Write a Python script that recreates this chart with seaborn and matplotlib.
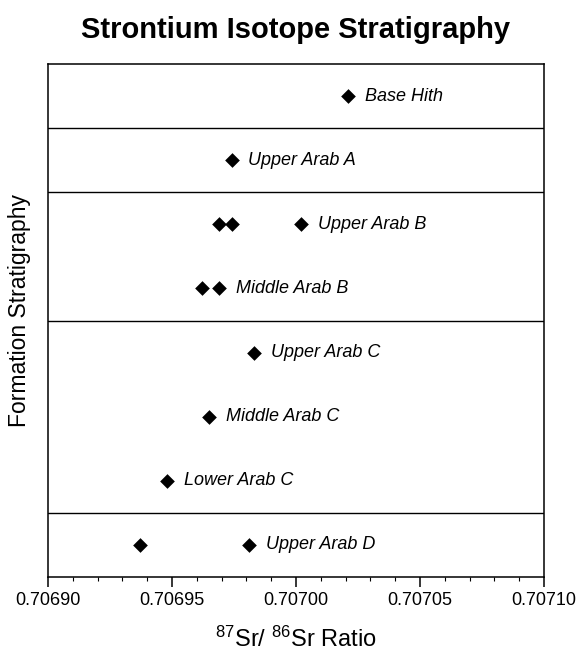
import matplotlib
matplotlib.use("Agg")
import matplotlib.pyplot as plt
import seaborn as sns
import pandas as pd
import numpy as np
from matplotlib.ticker import MultipleLocator, FormatStrFormatter

# ---- data ----
formations = ["Base Hith", "Upper Arab A", "Upper Arab B", "Middle Arab B",
              "Upper Arab C", "Middle Arab C", "Lower Arab C", "Upper Arab D"]
formation_unit = ["Hith", "Arab A", "Arab B", "Arab B",
                  "Arab C", "Arab C", "Arab C", "Arab D"]
sample_formation = ["Base Hith", "Upper Arab A",
                    "Upper Arab B", "Upper Arab B", "Upper Arab B",
                    "Middle Arab B", "Middle Arab B",
                    "Upper Arab C", "Middle Arab C", "Lower Arab C",
                    "Upper Arab D", "Upper Arab D"]
sample_ratio = [0.707021, 0.706974,
                0.706969, 0.706974, 0.707002,
                0.706962, 0.706969,
                0.706983, 0.706965, 0.706948,
                0.706937, 0.706981]
x_ticks = [0.70690, 0.70695, 0.70700, 0.70705, 0.70710]

sns.set_style("white")
plt.rcParams["font.family"] = ["Liberation Sans", "DejaVu Sans"]
plt.rcParams["mathtext.default"] = "regular"
plt.rcParams["text.color"] = "black"
plt.rcParams["axes.labelcolor"] = "black"
plt.rcParams["xtick.color"] = "black"
plt.rcParams["ytick.color"] = "black"

df = pd.DataFrame({"formation": sample_formation, "ratio": sample_ratio})
df["row"] = df["formation"].map({f: i + 0.5 for i, f in enumerate(formations)})

fig = plt.figure(figsize=(5.78, 6.55), dpi=100)
ax = fig.add_axes([48 / 578, 78 / 655, 496 / 578, 513 / 655])

sns.scatterplot(data=df, x="ratio", y="row", marker="D", color="black",
                s=56, linewidth=0, ax=ax, legend=False, zorder=3)

# formation unit boundaries
for i in range(1, len(formations)):
    if formation_unit[i] != formation_unit[i - 1]:
        ax.axhline(i, color="black", lw=1.0, zorder=2)

# labels to the right of the right-most sample
for i, f in enumerate(formations):
    xmax = df.loc[df["formation"] == f, "ratio"].max()
    ax.annotate(f, (xmax, i + 0.5), xytext=(12, 0), textcoords="offset points",
                ha="left", va="center", fontsize=13, fontstyle="italic",
                color="black")

ax.set_xlim(x_ticks[0], x_ticks[-1])
ax.set_ylim(len(formations), 0)
ax.set_xticks(x_ticks)
ax.xaxis.set_major_formatter(FormatStrFormatter("%.5f"))
ax.xaxis.set_minor_locator(MultipleLocator(0.00001))
ax.set_yticks([])
ax.tick_params(axis="x", which="major", direction="out", length=7, width=1.1,
               labelsize=13, pad=4, bottom=True, color="black",
               labelcolor="black")
ax.tick_params(axis="x", which="minor", direction="out", length=3, width=0.8,
               bottom=True, color="black")
for sp in ax.spines.values():
    sp.set_visible(True)
    sp.set_color("black")
    sp.set_linewidth(1.1)

ax.set_xlabel(r"$^{87}$Sr/ $^{86}$Sr Ratio", fontsize=17, color="black")
ax.xaxis.set_label_coords(0.5, -(627 - 577) / 513)
ax.set_ylabel("Formation Stratigraphy", fontsize=16.5, color="black")
ax.yaxis.set_label_coords(-(48 - 31) / 496, (577 - 310) / 513)
ax.set_title("Strontium Isotope Stratigraphy", fontsize=21, fontweight="bold",
             pad=19, color="black")

fig.savefig("out.png", dpi=100)
